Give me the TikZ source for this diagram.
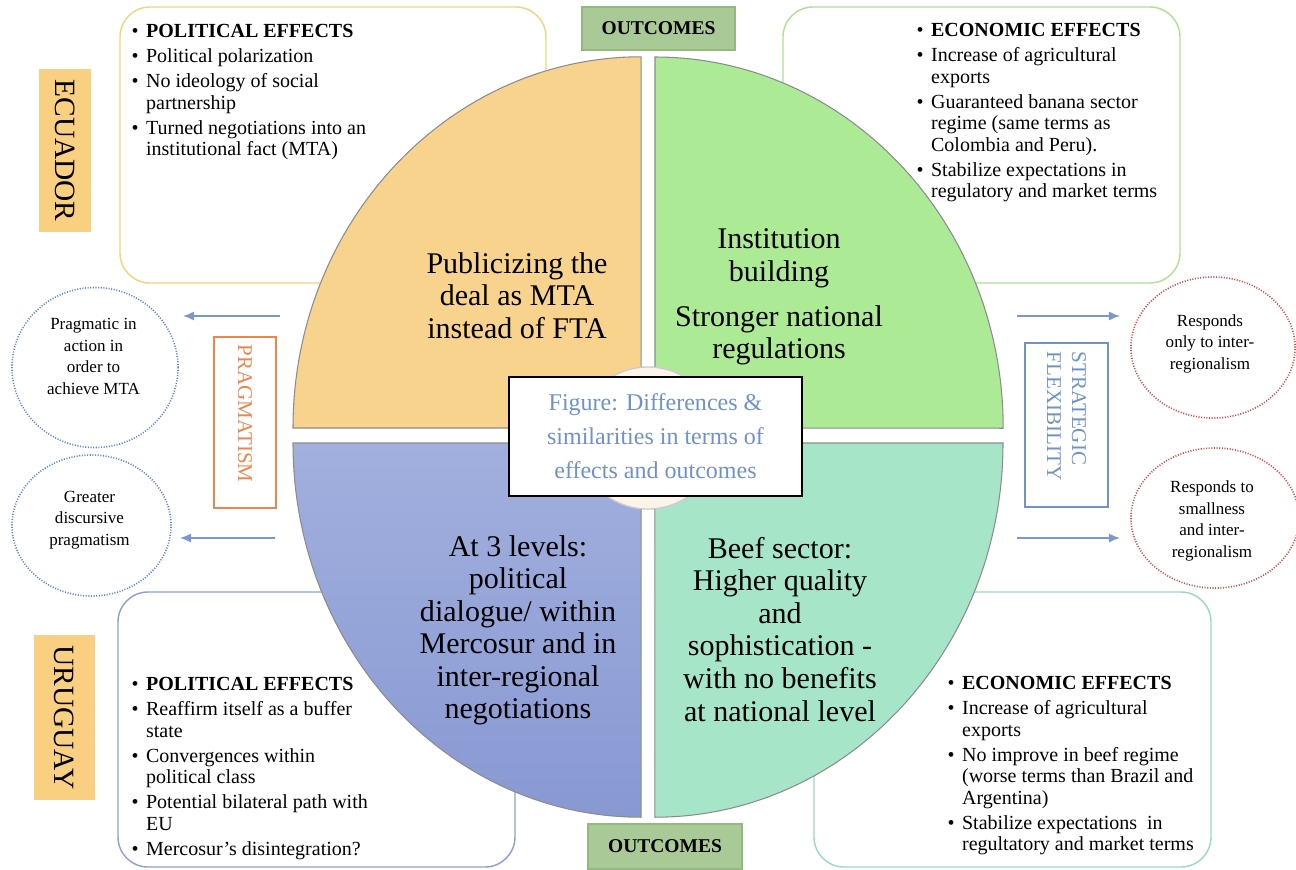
\documentclass[tikz,border=0pt]{standalone}
\usepackage{fontspec}
\setmainfont{Liberation Serif}
\usetikzlibrary{shapes.geometric,arrows.meta}
\definecolor{mtaorange}{RGB}{248,211,141}
\definecolor{instgreen}{RGB}{172,234,150}
\definecolor{levelblue}{RGB}{162,176,222}
\definecolor{levelbluedark}{RGB}{136,152,210}
\definecolor{beefteal}{RGB}{166,229,200}
\definecolor{ecuborder}{RGB}{240,212,120}
\definecolor{ecoborder}{RGB}{172,226,145}
\definecolor{uruborder}{RGB}{142,158,206}
\definecolor{beefborder}{RGB}{152,216,200}
\definecolor{countryfill}{RGB}{249,208,130}
\definecolor{outfill}{RGB}{169,201,150}
\definecolor{outline}{RGB}{148,184,128}
\definecolor{pragorange}{RGB}{232,134,80}
\definecolor{flexblue}{RGB}{112,146,199}
\definecolor{pragring}{RGB}{90,132,204}
\definecolor{flexring}{RGB}{206,72,72}
\definecolor{arrowblue}{RGB}{122,152,204}
\definecolor{figblue}{RGB}{112,146,199}
\definecolor{hubcream}{RGB}{252,244,232}
\newcommand{\effbul}{\makebox[4.1pt][l]{\textbullet}}
\newcommand{\effind}{\hspace*{4.1pt}}
\tikzset{
	quad/.style={draw=black!45, line width=0.3pt},
	qtext/.style={align=center, anchor=north, inner sep=0, font=\fontsize{8.54}{9.25}\selectfont},
	effbox/.style={rounded corners=0.3cm, fill=white, line width=0.4pt},
	efftext/.style={align=left, anchor=north west, inner sep=0, font=\fontsize{5.69}{6.12}\selectfont},
	country/.style={rotate=-90, fill=countryfill, inner sep=0, font=\fontsize{8.36}{9}\selectfont},
	outbox/.style={fill=outfill, draw=outline, line width=0.4pt, inner sep=0, font=\bfseries\fontsize{5.55}{6}\selectfont},
	sidebox/.style={rotate=-90, draw, line width=0.5pt, align=left, inner ysep=0, font=\fontsize{5.97}{7.1}\selectfont},
	ring/.style={ellipse, line width=0.45pt, dash pattern=on 0.3pt off 0.45pt, inner sep=0},
	ringtext/.style={align=center, inner sep=0, font=\fontsize{4.84}{6.12}\selectfont},
	arr/.style={-{Latex[length=0.11cm,width=0.09cm]}, draw=arrowblue, line width=0.4pt}
}
\begin{document}
\begin{tikzpicture}[x=0.01cm,y=-0.01cm]
	\useasboundingbox (0,0) rectangle (1296,869);
	\draw[effbox, draw=ecuborder](120,7) rectangle (546,283);
	\draw[effbox, draw=ecoborder](783,7) rectangle (1180,283);
	\draw[effbox, draw=uruborder](118,592) rectangle (515,867);
	\draw[effbox, draw=beefborder](814,592) rectangle (1211,867);
	\path[quad, fill=mtaorange](641,428) -- (293,428) arc[start angle=180, end angle=90, x radius=3.48cm, y radius=3.71cm] -- cycle;
	\path[quad, fill=instgreen](655,428) -- (655,57) arc[start angle=90, end angle=0, x radius=3.48cm, y radius=3.71cm] -- cycle;
	\path[quad, top color=levelblue, bottom color=levelbluedark](641,443) -- (293,443) arc[start angle=180, end angle=270, x radius=3.48cm, y radius=3.74cm] -- cycle;
	\path[quad, fill=beefteal](655,443) -- (1003,443) arc[start angle=0, end angle=-90, x radius=3.48cm, y radius=3.74cm] -- cycle;
	\node[qtext] (qmta) at (517,251.5) {Publicizing the\\deal as MTA\\instead of FTA};
	\node[qtext] (qinst) at (779,228) {Institution\\building\\[3.6pt]Stronger national\\regulations};
	\node[qtext] (qlevels) at (518,534.5) {At 3 levels:\\political\\dialogue/ within\\Mercosur and in\\inter-regional\\negotiations};
	\node[qtext] (qbeef) at (780,536.5) {Beef sector:\\Higher quality\\and\\sophistication -\\with no benefits\\at national level};
	\node[circle, draw=black!20, fill=hubcream, minimum size=1.42cm] (hub) at (648,438) {};
	\node[draw=black, line width=0.5pt, fill=white, minimum width=2.93cm, minimum height=1.19cm, align=center, text=figblue, font=\fontsize{6.83}{9.67}\selectfont] (figbox) at (655.5,436.5) {Figure: Differences \&\\similarities in terms of\\effects and outcomes};
	\node[efftext] (ecutext) at (131,23.5) {\effbul\textbf{POLITICAL EFFECTS}\\[1pt]
		\effbul Political polarization\\[1pt]
		\effbul No ideology of social\\
		\effind partnership\\[1pt]
		\effbul Turned negotiations into an\\
		\effind institutional fact (MTA)};
	\node[efftext] (ecotext) at (916,22.5) {\effbul\textbf{ECONOMIC EFFECTS}\\[1pt]
		\effbul Increase of agricultural\\
		\effind exports\\[1pt]
		\effbul Guaranteed banana sector\\
		\effind regime (same terms as\\
		\effind Colombia and Peru).\\[1pt]
		\effbul Stabilize expectations in\\
		\effind regulatory and market terms};
	\node[efftext] (urutext) at (131,676.5) {\effbul\textbf{POLITICAL EFFECTS}\\[1pt]
		\effbul Reaffirm itself as a buffer\\
		\effind state\\[1pt]
		\effbul Convergences within\\
		\effind political class\\[1pt]
		\effbul Potential bilateral path with\\
		\effind EU\\[1pt]
		\effbul Mercosur's disintegration?};
	\node[efftext] (beeftext) at (947,675.5) {\effbul\textbf{ECONOMIC EFFECTS}\\[1pt]
		\effbul Increase of agricultural\\
		\effind exports\\[1pt]
		\effbul No improve in beef regime\\
		\effind (worse terms than Brazil and\\
		\effind Argentina)\\[1pt]
		\effbul Stabilize expectations\ \ in\\
		\effind regultatory and market terms};
	\node[country, minimum width=1.63cm, minimum height=0.52cm] (ecuador) at (65,150.5) {ECUADOR};
	\node[country, minimum width=1.65cm, minimum height=0.61cm] (uruguay) at (64.5,717.5) {URUGUAY};
	\node[outbox, minimum width=1.53cm, minimum height=0.43cm] (outtop) at (658.5,28.5) {OUTCOMES};
	\node[outbox, minimum width=1.54cm, minimum height=0.45cm] (outbottom) at (665,846.5) {OUTCOMES};
	\node[sidebox, draw=pragorange, text=pragorange, text width=1.55cm, inner xsep=0.08cm, minimum height=0.62cm] (pragbox) at (245,422.5) {PRAGMATISM};
	\node[sidebox, draw=flexblue, text=flexblue, text width=1.46cm, inner xsep=0.09cm, minimum height=0.83cm] (flexbox) at (1066.5,425) {STRATEGIC\\FLEXIBILITY};
	\node[ring, draw=pragring, minimum width=1.66cm, minimum height=1.60cm] (prag1) at (95,367.5) {};
	\node[ringtext] (prag1txt) at (93.5,356.5) {Pragmatic in\\action in\\order to\\achieve MTA};
	\node[ring, draw=pragring, minimum width=1.59cm, minimum height=1.41cm] (prag2) at (91.5,525.5) {};
	\node[ringtext] (prag2txt) at (89.5,520) {Greater\\discursive\\pragmatism};
	\node[ring, draw=flexring, minimum width=1.64cm, minimum height=1.41cm] (flex1) at (1213,347.5) {};
	\node[ringtext] (flex1txt) at (1210,343.5) {Responds\\only to inter-\\regionalism};
	\node[ring, draw=flexring, minimum width=1.68cm, minimum height=1.40cm] (flex2) at (1215,518) {};
	\node[ringtext] (flex2txt) at (1212,521) {Responds to\\smallness\\and inter-\\regionalism};
	\coordinate (pragarrA) at (280,316);
	\coordinate (pragendA) at (183,316);
	\coordinate (pragarrB) at (275,538);
	\coordinate (pragendB) at (180,538);
	\coordinate (flexarrA) at (1017,316);
	\coordinate (flexendA) at (1120,316);
	\coordinate (flexarrB) at (1017,538);
	\coordinate (flexendB) at (1120,538);
	\draw[arr](pragarrA)--(pragendA);
	\draw[arr](pragarrB)--(pragendB);
	\draw[arr](flexarrA)--(flexendA);
	\draw[arr](flexarrB)--(flexendB);
\end{tikzpicture}
\end{document}
